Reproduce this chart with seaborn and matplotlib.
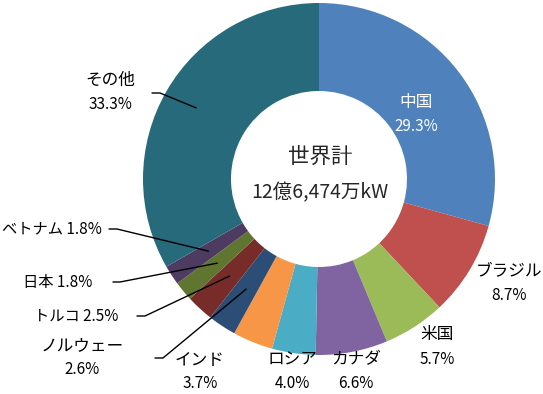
import numpy as np
import seaborn as sns
import matplotlib.pyplot as plt

countries = ['中国', 'ブラジル', '米国', 'カナダ', 'ロシア', 'インド',
             'ノルウェー', 'トルコ', '日本', 'ベトナム', 'その他']
shares = [29.3, 8.7, 5.7, 6.6, 4.0, 3.7, 2.6, 2.5, 1.8, 1.8, 33.3]
colors = ['#4F81BD', '#C0504D', '#9BBB59', '#8064A2', '#4BACC6', '#F79646',
          '#2C4D75', '#772C2A', '#5F7530', '#4D3B62', '#276A7C']
total_title = '世界計'
total_value = '12億6,474万kW'

sns.set_style('white')
plt.rcParams['font.family'] = ['Noto Sans CJK JP', 'DejaVu Sans']

W, H = 543, 394
fig = plt.figure(figsize=(W / 100, H / 100), dpi=100)
ax = fig.add_axes([0, 0, 1, 1])

cx, cy = 319, 179          # pixel centre (y from top)
R, r = 176, 88


def P(x, y):
    return x, H - y


wedges, _ = ax.pie(shares, colors=colors, startangle=90, counterclock=False,
                   center=P(cx, cy), radius=R,
                   wedgeprops=dict(width=R - r, linewidth=0))
ax.set_xlim(0, W)
ax.set_ylim(0, H)
ax.set_aspect('equal')
ax.axis('off')

# centre text
ax.text(*P(cx + 1, 157), total_title, ha='center', va='center', fontsize=15.5)
ax.text(*P(cx + 1, 193), total_value, ha='center', va='center', fontsize=14)

# label layout: name position (pixels), leader-line label end (or None)
layout = {
    '中国': ((416, 102), None),
    'ブラジル': ((509, 272), None),
    '米国': ((437, 335), None),
    'カナダ': ((356, 360), None),
    'ロシア': ((292, 360), None),
    'インド': ((200, 360), None),
    'ノルウェー': ((82, 346), (155, 163, 358)),
    'トルコ': ((76, 316), (137, 145, 316)),
    '日本': ((58, 282), (113, 120, 282)),
    'ベトナム': ((52, 229), (109, 117, 229)),
    'その他': ((110, 80), (152, 160, 93)),
}
inline = {'トルコ', '日本', 'ベトナム'}

for w, name, val in zip(wedges, countries, shares):
    (tx, ty), lead = layout[name]
    pct = f'{val:.1f}%'
    col = 'white' if name == '中国' else 'black'
    if name in inline:
        ax.text(*P(tx, ty), f'{name} {pct}', ha='center', va='center',
                fontsize=11, color=col)
    else:
        ax.text(*P(tx, ty), name, ha='center', va='center', fontsize=12, color=col)
        ax.text(*P(tx, ty + 24), pct, ha='center', va='center', fontsize=11, color=col)
    if lead is not None:
        x0, x1, ly = lead
        ang = np.deg2rad((w.theta1 + w.theta2) / 2)
        rad = 132 if name != 'その他' else 142
        sx = cx + rad * np.cos(ang)
        sy = cy - rad * np.sin(ang)
        xs = [x0, x1, sx]
        ys = [H - ly, H - ly, H - sy]
        ax.plot(xs, ys, color='black', lw=1)

fig.savefig('out.png', dpi=100)
